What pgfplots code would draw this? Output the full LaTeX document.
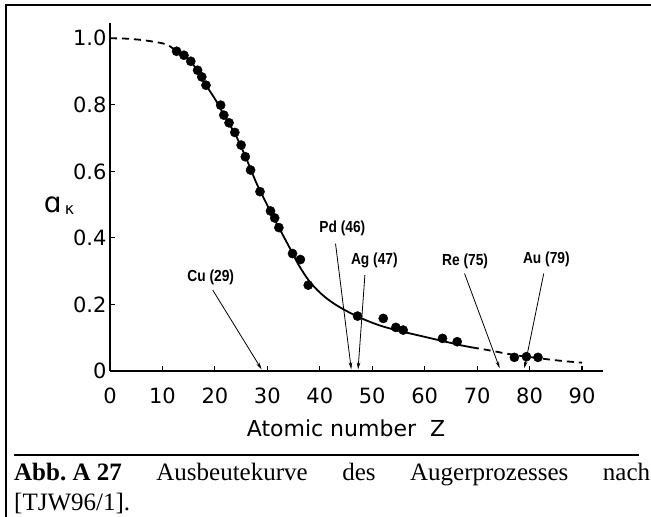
\documentclass[border=0pt]{standalone}
\usepackage{fontspec}
\setmainfont{Liberation Serif}
\newfontfamily\dv{DejaVu Sans}
\newfontfamily\lsbn[FakeStretch=0.86]{Liberation Sans}
\usepackage{pgfplots}
\pgfplotsset{compat=1.18}
\usetikzlibrary{arrows.meta}

\begin{document}
\begin{tikzpicture}[x=1bp,y=1bp]
\useasboundingbox (0,0) rectangle (651,517);
% frame
\draw[line width=2.2bp] (6,0) -- (6,512) -- (651,512);
% caption rule
\draw[line width=2.3bp] (14,62) -- (639,62);
\node[anchor=base west, inner sep=0] at (14,36) {\fontsize{25bp}{28bp}\selectfont\makebox[636bp][s]{\mbox{\bfseries Abb.~A~27} Ausbeutekurve des Augerprozesses nach}};
\node[anchor=base west, inner sep=0] at (14,6) {\fontsize{25bp}{28bp}\selectfont [TJW96/1].};
% x axis label
\node at (346,89) {\dv\fontsize{22bp}{24bp}\selectfont Atomic number\ \ Z};

\begin{axis}[
  at={(110bp,146bp)}, anchor=south west,
  scale only axis, width=493bp, height=348bp,
  xmin=0, xmax=94, ymin=0, ymax=1.046,
  axis lines=left,
  axis line style={-, line width=1.5bp},
  x axis line style={-}, y axis line style={-},
  xtick={0,10,20,30,40,50,60,70,80,90},
  xticklabels={0,10,20,30,40,50,60,70,80,90},
  ytick={0,0.2,0.4,0.6,0.8,1},
  yticklabels={0,0.2,0.4,0.6,0.8,1.0},
  tick align=inside,
  major tick length=5bp,
  tick style={line width=1.1bp, black},
  tick label style={font=\dv\fontsize{21bp}{24bp}\selectfont},
  xticklabel style={yshift=-13bp},
  clip=false,
]
% dashed parts of the curve
\addplot[black, line width=1.8bp, dash pattern=on 7bp off 5bp, smooth] coordinates {
 (0,1.0) (3,0.999) (6,0.995) (9,0.988) (11,0.980) (12.5,0.963)};
\addplot[black, line width=1.8bp, dash pattern=on 7bp off 5bp, smooth] coordinates {
 (69,0.071) (72,0.063) (75,0.054) (78,0.046) (81,0.040) (84,0.034) (87,0.029) (90,0.025)};
% solid part
\addplot[black, line width=1.8bp, smooth] coordinates {
 (12.5,0.963) (14,0.950) (16,0.918) (18,0.866) (20,0.818) (22,0.762) (24,0.708)
 (26,0.638) (28,0.562) (30,0.498) (32,0.437) (34,0.378) (36,0.318) (38,0.270)
 (40,0.236) (42,0.210) (44,0.190) (46,0.173) (48,0.158) (50,0.145) (52,0.134)
 (55,0.121) (58,0.110) (61,0.099) (64,0.088) (67,0.077) (69,0.071)};
% measured points
\addplot[only marks, mark=*, mark size=4.6bp, black] coordinates {
 (12.7,0.961) (14.1,0.949) (15.4,0.931) (16.7,0.904) (17.5,0.884) (18.3,0.859)
 (21.1,0.799) (21.7,0.769) (22.7,0.746) (23.8,0.717) (25.0,0.679) (25.8,0.644)
 (26.8,0.604) (28.6,0.539) (30.6,0.481) (31.4,0.460) (32.2,0.431) (34.8,0.353)
 (36.3,0.335) (37.8,0.258) (47.2,0.165) (52.1,0.158) (54.5,0.131) (55.9,0.123)
 (63.4,0.098) (66.2,0.088) (77.1,0.041) (79.4,0.043) (81.6,0.041)};
% y axis label
\node at (axis cs:-10.9,0.50) {\dv\fontsize{28bp}{28bp}\selectfont ɑ};
\node at (axis cs:-7.7,0.485) {\dv\fontsize{16bp}{16bp}\selectfont κ};
% annotations
\tikzset{lab/.style={font=\lsbn\bfseries\fontsize{16bp}{18bp}\selectfont, inner sep=0},
         arr/.style={line width=0.8bp, -{Stealth[length=7bp,width=3.5bp]}}}
\node[lab] at (axis cs:19.2,0.282) {Cu (29)};
\draw[arr] (axis cs:19.6,0.243) -- (axis cs:28.9,0.005);
\node[lab] at (axis cs:44.3,0.429) {Pd (46)};
\draw[arr] (axis cs:43.0,0.383) -- (axis cs:46.0,0.005);
\node[lab] at (axis cs:50.4,0.333) {Ag (47)};
\draw[arr] (axis cs:48.6,0.288) -- (axis cs:47.3,0.005);
\node[lab] at (axis cs:67.7,0.331) {Re (75)};
\draw[arr] (axis cs:67.6,0.293) -- (axis cs:74.3,0.008);
\node[lab] at (axis cs:83.2,0.335) {Au (79)};
\draw[arr] (axis cs:82.7,0.293) -- (axis cs:79.0,0.008);
\end{axis}
\end{tikzpicture}
\end{document}
